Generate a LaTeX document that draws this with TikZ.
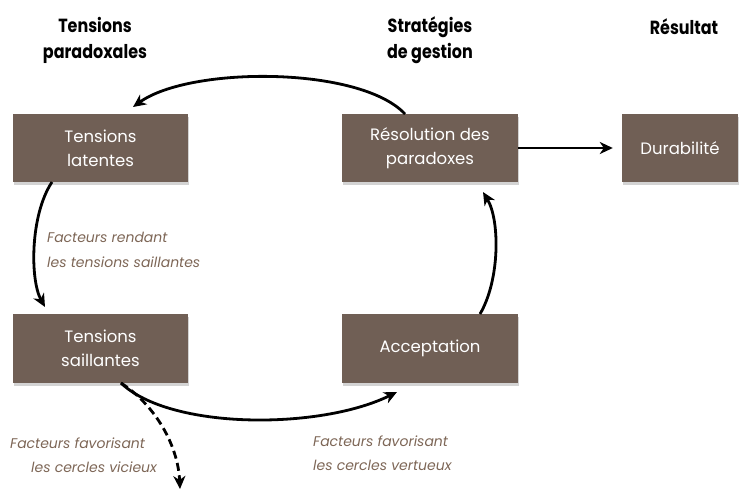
\documentclass[tikz,border=0pt]{standalone}
\usepackage{fontspec}
\setmainfont{Poppins}
\newfontfamily\hdrfont[FakeStretch=0.84]{Poppins}
\usetikzlibrary{arrows.meta,shadows}
\definecolor{boxbrown}{RGB}{112,95,85}
\definecolor{labelbrown}{RGB}{125,102,86}
\begin{document}
\begin{tikzpicture}[x=1pt,y=-1pt,
  stagebox/.style={fill=boxbrown, text=white, minimum height=68pt, align=center,
    font=\fontsize{16.5}{24}\selectfont, inner sep=0pt,
    drop shadow={opacity=0.35, shadow xshift=0.5pt, shadow yshift=-2.5pt}},
  header/.style={font=\hdrfont\bfseries\fontsize{19}{26}\selectfont, align=center},
  factlabel/.style={font=\itshape\fontsize{14}{24.5}\selectfont, text=labelbrown, align=left, inner sep=0pt},
  flow/.style={line width=2.8pt, -{Stealth[length=13pt,width=12pt,inset=4pt]}},
]
\path[use as bounding box] (0,0) rectangle (739,490);

% headers
\node[header] (h1) at (95,40) {Tensions\\paradoxales};
\node[header] (h2) at (430,40) {Stratégies\\de gestion};
\node[header, anchor=center] (h3) at (684,27) {Résultat};

% boxes
\node[stagebox, minimum width=175pt] (lat) at (100.5,148) {Tensions\\latentes};
\node[stagebox, minimum width=175pt, minimum height=69pt] (sail) at (100.5,348.5) {Tensions\\saillantes};
\node[stagebox, minimum width=176pt] (res) at (430,148) {Résolution des\\paradoxes};
\node[stagebox, minimum width=176pt, minimum height=69pt] (acc) at (430,348.5) {Acceptation};
\node[stagebox, minimum width=116pt] (dur) at (680,148) {Durabilité};

% connector end points
\coordinate (resTop) at (405,114);
\coordinate (latTip) at (133,107);
\coordinate (latBot) at (52,182);
\coordinate (sailTip) at (45,307);
\coordinate (sailBot) at (121,383);
\coordinate (accTip) at (397,392);
\coordinate (accTop) at (480,314);
\coordinate (resTip) at (483,192);
\coordinate (viceTip) at (180,489);

% connectors
\draw[flow] (resTop) .. controls (360,66) and (190,66) .. (latTip);
\draw[flow] (latBot) .. controls (30,215) and (30,280) .. (sailTip);
\draw[flow] (sailBot) .. controls (170,430) and (320,430) .. (accTip);
\draw[flow] (accTop) .. controls (500,280) and (500,220) .. (resTip);
\draw[flow, dash pattern=on 8pt off 4.5pt] (sailBot) .. controls (155,405) and (178,445) .. (viceTip);
\draw[flow, shorten >=9pt] (res.east) -- (dur.west);

% labels
\node[factlabel, anchor=west] (l1) at (47,250) {Facteurs rendant\\les tensions saillantes};
\node[factlabel, anchor=west] (l2) at (10,455) {Facteurs favorisant\\\hspace*{21pt}les cercles vicieux};
\node[factlabel, anchor=west] (l3) at (313,453) {Facteurs favorisant\\les cercles vertueux};
\end{tikzpicture}
\end{document}
